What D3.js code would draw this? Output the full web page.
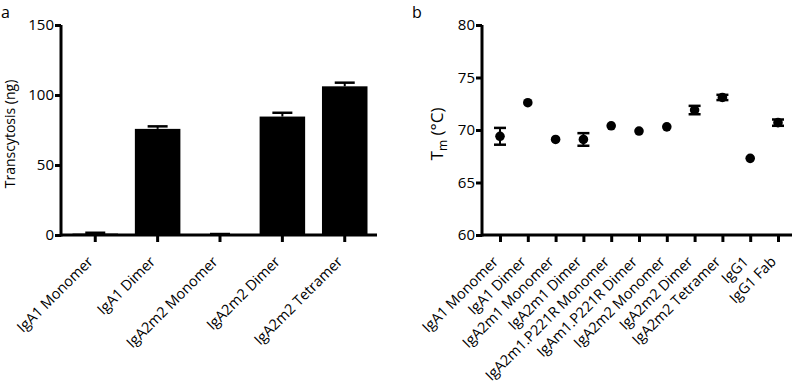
<!DOCTYPE html>
<html>
<head>
<meta charset="utf-8">
<script src="https://cdn.jsdelivr.net/npm/d3@7"></script>
<style>
  body { margin: 0; background: #fff; }
  text { font-family: "Open Sans", sans-serif; fill: #000; }
</style>
</head>
<body>
<svg id="chart" width="800" height="389"></svg>
<script>
// panel a: transcytosis
const catsA = ["IgA1 Monomer", "IgA1 Dimer", "IgA2m2 Monomer", "IgA2m2 Dimer", "IgA2m2 Tetramer"];
const valsA = [1.0, 75.8, 0.5, 84.6, 106.2];
const errA = [0.6, 1.8, 0.2, 2.7, 2.6];
const ticksA = [0, 50, 100, 150];

// panel b: melting temperature
const catsB = ["IgA1 Monomer", "IgA1 Dimer", "IgA2m1 Monomer", "IgA2m1 Dimer", "IgA2m1.P221R Monomer",
  "IgAm1.P221R Dimer", "IgA2m2 Monomer", "IgA2m2 Dimer", "IgA2m2 Tetramer", "IgG1", "IgG1 Fab"];
const valsB = [69.4, 72.6, 69.1, 69.1, 70.4, 69.9, 70.3, 71.9, 73.1, 67.3, 70.7];
const errB = [0.8, 0.1, 0.1, 0.6, 0.1, 0.15, 0.15, 0.4, 0.25, 0.1, 0.3];
const ticksB = [60, 65, 70, 75, 80];

const svg = d3.select("#chart");
const axisW = 3;
const tickFont = 15, labFont = 14.5;

// ---------- panel a ----------
const yA = d3.scaleLinear().domain([0, 150]).range([235, 25]);
const xA = d3.scaleBand().domain(catsA).range([72.5, 367.5]).paddingInner(0.27).paddingOuter(0);
const gA = svg.append("g");

gA.selectAll("rect.bar")
  .data(catsA)
  .enter().append("rect")
  .attr("class", "bar")
  .attr("x", d => xA(d))
  .attr("width", xA.bandwidth())
  .attr("y", (d, i) => yA(valsA[i]))
  .attr("height", (d, i) => yA(0) - yA(valsA[i]))
  .attr("fill", "#000");

// error bars (upper only)
catsA.forEach((c, i) => {
  const cx = xA(c) + xA.bandwidth() / 2;
  gA.append("line").attr("x1", cx).attr("x2", cx)
    .attr("y1", yA(valsA[i])).attr("y2", yA(valsA[i] + errA[i]))
    .attr("stroke", "#000").attr("stroke-width", 2);
  gA.append("line").attr("x1", cx - 10).attr("x2", cx + 10)
    .attr("y1", yA(valsA[i] + errA[i])).attr("y2", yA(valsA[i] + errA[i]))
    .attr("stroke", "#000").attr("stroke-width", 2.5);
});

// y axis
const yAxisA = gA.append("g").attr("transform", "translate(61,0)")
  .call(d3.axisLeft(yA).tickValues(ticksA).tickSize(6).tickSizeOuter(0));
yAxisA.select(".domain").attr("stroke-width", axisW).attr("d", "M0," + (yA(0) + 1.5) + "V" + yA(150));
yAxisA.selectAll(".tick line").attr("stroke-width", axisW);
yAxisA.selectAll(".tick text").attr("font-size", tickFont).attr("x", -7).style("font-family", "Open Sans");

// x axis
const xAxisA = gA.append("g").attr("transform", "translate(0,235)")
  .call(d3.axisBottom(xA).tickSize(7).tickSizeOuter(0));
xAxisA.select(".domain").attr("stroke-width", axisW).attr("d", "M61,0H377");
xAxisA.selectAll(".tick line").attr("stroke-width", axisW);
xAxisA.selectAll(".tick text")
  .attr("font-size", labFont)
  .attr("text-anchor", "end")
  .attr("x", 0).attr("y", 0).attr("dy", "0.35em")
  .attr("transform", "translate(-5,24) rotate(-45)")
  .style("font-family", "Open Sans");

gA.append("text")
  .attr("transform", "translate(15,134) rotate(-90)")
  .attr("text-anchor", "middle")
  .attr("font-size", 14)
  .text("Transcytosis (ng)");

gA.append("text").attr("x", 1).attr("y", 18).attr("font-size", 16).text("a");

// ---------- panel b ----------
const yB = d3.scaleLinear().domain([60, 80]).range([235, 25]);
const xB = d3.scalePoint().domain(catsB).range([500, 778]);
const gB = svg.append("g");

catsB.forEach((c, i) => {
  const cx = xB(c);
  if (errB[i] > 0.2) {
    gB.append("line").attr("x1", cx).attr("x2", cx)
      .attr("y1", yB(valsB[i] - errB[i])).attr("y2", yB(valsB[i] + errB[i]))
      .attr("stroke", "#000").attr("stroke-width", 2);
    [valsB[i] - errB[i], valsB[i] + errB[i]].forEach(v => {
      gB.append("line").attr("x1", cx - 6).attr("x2", cx + 6)
        .attr("y1", yB(v)).attr("y2", yB(v))
        .attr("stroke", "#000").attr("stroke-width", 2.5);
    });
  }
});

gB.selectAll("circle.pt")
  .data(catsB)
  .enter().append("circle")
  .attr("class", "pt")
  .attr("cx", d => xB(d))
  .attr("cy", (d, i) => yB(valsB[i]))
  .attr("r", 4.8)
  .attr("fill", "#000");

const yAxisB = gB.append("g").attr("transform", "translate(482,0)")
  .call(d3.axisLeft(yB).tickValues(ticksB).tickSize(6).tickSizeOuter(0));
yAxisB.select(".domain").attr("stroke-width", axisW).attr("d", "M0," + (yB(60) + 1.5) + "V" + yB(80));
yAxisB.selectAll(".tick line").attr("stroke-width", axisW);
yAxisB.selectAll(".tick text").attr("font-size", tickFont).attr("x", -7).style("font-family", "Open Sans");

const xAxisB = gB.append("g").attr("transform", "translate(0,235)")
  .call(d3.axisBottom(xB).tickSize(7).tickSizeOuter(0));
xAxisB.select(".domain").attr("stroke-width", axisW).attr("d", "M482,0H792");
xAxisB.selectAll(".tick line").attr("stroke-width", axisW);
xAxisB.selectAll(".tick text")
  .attr("font-size", labFont)
  .attr("text-anchor", "end")
  .attr("x", 0).attr("y", 0).attr("dy", "0.35em")
  .attr("transform", "translate(-5,24) rotate(-45)")
  .style("font-family", "Open Sans");

const tl = gB.append("text")
  .attr("transform", "translate(443,134) rotate(-90)")
  .attr("text-anchor", "middle")
  .attr("font-size", 17);
tl.append("tspan").text("T");
tl.append("tspan").attr("font-size", 12).attr("dy", 4).text("m");
tl.append("tspan").attr("dy", -4).text(" (°C)");

gB.append("text").attr("x", 412).attr("y", 18).attr("font-size", 16).text("b");
</script>
</body>
</html>
